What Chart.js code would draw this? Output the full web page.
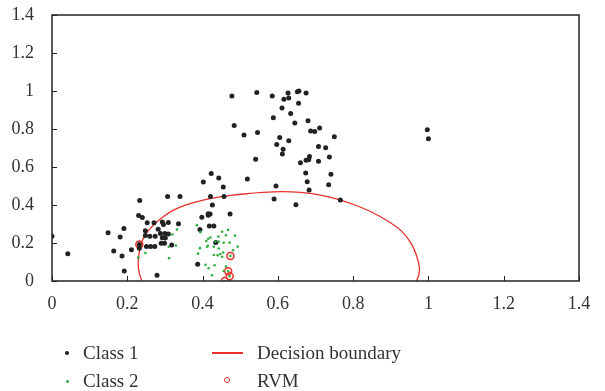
<!DOCTYPE html>
<html>
<head>
<meta charset="utf-8">
<script src="https://cdn.jsdelivr.net/npm/chart.js@4/dist/chart.umd.min.js"></script>
<style>
  body { margin: 0; background: #fff; }
  #wrap { position: relative; width: 605px; height: 391px; }
  .lg { position: absolute; font-family: "Liberation Serif", serif; font-size: 19px; color: #333; line-height: 22px; white-space: nowrap; }
  .mk { position: absolute; }
</style>
</head>
<body>
<div id="wrap">
  <canvas id="c" width="605" height="391"></canvas>
  <div class="mk" style="left:65px;top:351px;width:4px;height:4px;border-radius:50%;background:#222"></div>
  <div class="lg" style="left:83px;top:342px">Class 1</div>
  <div class="mk" style="left:66px;top:380px;width:3px;height:3px;border-radius:50%;background:#2eae3c"></div>
  <div class="lg" style="left:83px;top:370px">Class 2</div>
  <div class="mk" style="left:212px;top:352px;width:31px;height:2px;background:#e8302c"></div>
  <div class="lg" style="left:257px;top:342px">Decision boundary</div>
  <div class="mk" style="left:224px;top:377px;width:4px;height:4px;border-radius:50%;border:1.4px solid #e8302c"></div>
  <div class="lg" style="left:257px;top:370px">RVM</div>
</div>
<script>
const axisTicks = [0, 0.2, 0.4, 0.6, 0.8, 1, 1.2, 1.4];

// class 1 (black)
const class1X = [0.000,0.042,0.149,0.181,0.191,0.164,0.186,0.192,0.211,0.233,0.230,0.240,0.232,0.232,0.253,0.248,0.248,0.271,0.260,0.274,0.251,0.262,0.273,0.282,0.293,0.296,0.309,0.288,0.300,0.293,0.301,0.309,0.290,0.299,0.318,0.336,0.307,0.340,0.279,0.387,
  0.393,0.398,0.415,0.420,0.415,0.426,0.421,0.457,0.455,0.443,0.402,0.423,0.418,0.430,0.435,0.473,0.478,0.484,
  0.510,0.519,0.544,0.546,0.541,0.585,0.588,0.590,0.595,0.597,0.605,0.611,0.614,0.612,0.616,0.629,0.627,0.629,0.634,0.645,0.648,0.652,0.656,0.655,0.660,0.674,0.675,0.678,0.680,0.675,0.682,0.684,0.683,0.687,0.698,0.708,0.708,0.711,0.727,0.735,0.737,0.741,0.750,0.766,0.997,1.000];
const class1Y = [0.236,0.144,0.254,0.231,0.276,0.158,0.132,0.053,0.165,0.424,0.345,0.334,0.192,0.173,0.306,0.264,0.239,0.306,0.236,0.235,0.182,0.182,0.182,0.273,0.310,0.297,0.308,0.250,0.250,0.227,0.226,0.247,0.199,0.199,0.190,0.301,0.445,0.445,0.030,0.088,
  0.271,0.336,0.354,0.352,0.346,0.400,0.445,0.445,0.495,0.542,0.521,0.566,0.290,0.290,0.202,0.352,0.974,0.819,
  0.768,0.537,0.992,0.781,0.641,0.974,0.859,0.432,0.500,0.718,0.755,0.910,0.694,0.669,0.956,0.963,0.990,0.738,0.881,0.832,0.401,0.996,1.000,0.935,0.623,0.569,0.990,0.523,0.844,0.635,0.638,0.655,0.479,0.789,0.787,0.708,0.630,0.805,0.701,0.507,0.653,0.562,0.759,0.426,0.796,0.749];

// class 2 (green)
const class2X = [0.332,0.320,0.329,0.311,0.248,0.229,0.310,0.385,0.394,0.415,0.421,0.410,0.414,0.393,0.388,0.452,0.468,0.462,0.442,0.486,0.493,0.481,0.434,0.443,0.456,0.472,0.412,0.443,0.447,0.452,0.440,0.455,0.430,0.430,0.408,0.416,0.432,0.425,0.456,0.462,0.474,0.468,0.472,0.459];
const class2Y = [0.271,0.245,0.187,0.120,0.147,0.123,0.180,0.294,0.257,0.222,0.229,0.210,0.185,0.173,0.144,0.259,0.269,0.241,0.234,0.239,0.181,0.162,0.208,0.208,0.201,0.202,0.180,0.171,0.142,0.128,0.135,0.150,0.180,0.137,0.085,0.067,0.083,0.030,0.053,0.076,0.132,0.051,0.025,0.000];

// relevance vectors
const rvmX = [0.232,0.474,0.468,0.472,0.459];
const rvmY = [0.192,0.132,0.051,0.025,0.000];

// decision boundary
const boundX = [0.239,0.232,0.229,0.231,0.236,0.247,0.265,0.290,0.320,0.360,0.410,0.460,0.510,0.560,0.610,0.660,0.710,0.760,0.805,0.850,0.895,0.930,0.955,0.969,0.976,0.974,0.968];
const boundY = [0.000,0.040,0.090,0.140,0.190,0.240,0.285,0.330,0.370,0.403,0.430,0.447,0.458,0.466,0.470,0.466,0.453,0.430,0.400,0.362,0.312,0.260,0.195,0.130,0.070,0.030,0.000];

const pts = (xs, ys) => xs.map((x, i) => ({ x: x, y: ys[i] }));
const fmt = v => String(Number(v.toFixed(1)));

const frame = {
  id: 'frame',
  afterDraw(chart) {
    const { ctx, chartArea: a, scales } = chart;
    ctx.save();
    ctx.strokeStyle = '#222';
    ctx.lineWidth = 1.5;
    ctx.strokeRect(a.left, a.top, a.right - a.left, a.bottom - a.top);
    ctx.lineWidth = 1;
    ctx.beginPath();
    axisTicks.forEach(t => {
      const px = Math.round(scales.x.getPixelForValue(t)) + 0.5;
      ctx.moveTo(px, a.bottom); ctx.lineTo(px, a.bottom - 5);
      const py = Math.round(scales.y.getPixelForValue(t)) + 0.5;
      ctx.moveTo(a.left, py); ctx.lineTo(a.left + 5, py);
    });
    ctx.stroke();
    ctx.restore();
  }
};

const tickFont = { family: 'Liberation Serif', size: 18 };

new Chart(document.getElementById('c'), {
  type: 'scatter',
  data: {
    datasets: [
      { label: 'Class 2', data: pts(class2X, class2Y), pointRadius: 1.3, pointBackgroundColor: '#2eae3c', pointBorderWidth: 0 },
      { label: 'Class 1', data: pts(class1X, class1Y), pointRadius: 2.5, pointBackgroundColor: '#222', pointBorderWidth: 0 },
      { label: 'Decision boundary', data: pts(boundX, boundY), showLine: true, tension: 0.3, borderColor: '#e8302c', borderWidth: 1.3, pointRadius: 0, fill: false },
      { label: 'RVM', data: pts(rvmX, rvmY), pointRadius: 3.5, pointBackgroundColor: 'rgba(0,0,0,0)', pointBorderColor: '#e8302c', pointBorderWidth: 1.5 }
    ]
  },
  options: {
    responsive: false,
    animation: false,
    events: [],
    layout: { padding: { top: 15, right: 26, left: 0, bottom: 0 } },
    plugins: { legend: { display: false }, tooltip: { enabled: false } },
    scales: {
      x: {
        type: 'linear', min: 0, max: 1.4,
        afterBuildTicks: s => { s.ticks = axisTicks.map(v => ({ value: v })); },
        afterFit: s => { s.height = 110; s.paddingLeft = 0; s.paddingRight = 0; },
        grid: { display: false },
        border: { display: false },
        ticks: { callback: fmt, font: tickFont, color: '#333', padding: 4, maxRotation: 0 }
      },
      y: {
        type: 'linear', min: 0, max: 1.4,
        afterBuildTicks: s => { s.ticks = axisTicks.map(v => ({ value: v })); },
        afterFit: s => { s.width = 52; s.paddingTop = 0; s.paddingBottom = 0; },
        grid: { display: false },
        border: { display: false },
        ticks: { callback: fmt, font: tickFont, color: '#333', padding: 10 }
      }
    }
  },
  plugins: [frame]
});
</script>
</body>
</html>
